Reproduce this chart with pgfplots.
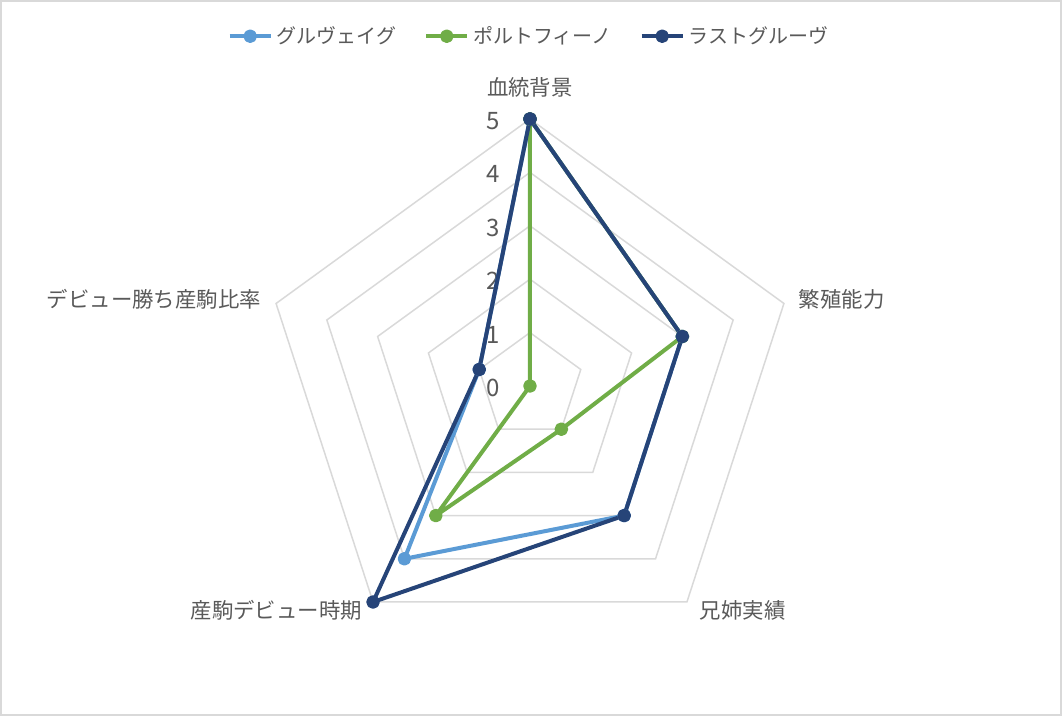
\documentclass[border=0pt]{standalone}
\usepackage{fontspec}
\setmainfont{Noto Sans CJK JP}
\usepackage{pgfplots}
\pgfplotsset{compat=1.18}
\usepgfplotslibrary{polar}
\definecolor{gurv}{HTML}{5B9BD5}
\definecolor{port}{HTML}{70AD47}
\definecolor{rast}{HTML}{264478}
\definecolor{gridc}{HTML}{D9D9D9}
\definecolor{txt}{HTML}{595959}

\begin{document}
\begin{tikzpicture}
\begin{polaraxis}[
    width=267pt, height=267pt, scale only axis,
    ymin=0, ymax=5,
    hide axis, clip=false,
    legend style={at={(0.5,1.155)}, anchor=center, draw=none, fill=none,
        legend columns=3, font=\fontsize{10}{12}\selectfont, text=txt,
        /tikz/every even column/.append style={column sep=12pt}},
    legend image code/.code={\draw[#1, mark repeat=2, mark phase=2]
        plot coordinates {(0pt,0pt)(10.25pt,0pt)(20.5pt,0pt)};},
]
    % pentagon grid
    \addplot[gridc, line width=0.75pt, no marks, forget plot] coordinates {(90,1)(18,1)(306,1)(234,1)(162,1)(90,1)};
    \addplot[gridc, line width=0.75pt, no marks, forget plot] coordinates {(90,2)(18,2)(306,2)(234,2)(162,2)(90,2)};
    \addplot[gridc, line width=0.75pt, no marks, forget plot] coordinates {(90,3)(18,3)(306,3)(234,3)(162,3)(90,3)};
    \addplot[gridc, line width=0.75pt, no marks, forget plot] coordinates {(90,4)(18,4)(306,4)(234,4)(162,4)(90,4)};
    \addplot[gridc, line width=0.75pt, no marks, forget plot] coordinates {(90,5)(18,5)(306,5)(234,5)(162,5)(90,5)};

    \coordinate (c) at (axis cs:0,0);
    % radial tick labels
    \foreach \k in {0,...,5} {
        \edef\temp{\noexpand\node[text=txt, font=\noexpand\fontsize{12}{14}\noexpand\selectfont, xshift=-18.5pt, yshift=-1pt]
            at (axis cs:90,\k) {\k};}
        \temp
    }

    \addplot[gurv, line width=2pt, line join=round, mark=*, mark size=2.4pt]
        coordinates {(90,5)(18,3)(306,3)(234,4)(162,1)(90,5)};
    \addlegendentry{グルヴェイグ}
    \addplot[port, line width=2pt, line join=round, mark=*, mark size=2.4pt]
        coordinates {(90,5)(18,3)(306,1)(234,3)(162,0)(90,5)};
    \addlegendentry{ポルトフィーノ}
    \addplot[rast, line width=2pt, line join=round, mark=*, mark size=2.4pt]
        coordinates {(90,5)(18,3)(306,3)(234,5)(162,1)(90,5)};
    \addlegendentry{ラストグルーヴ}

    % category labels
    \begin{scope}[every node/.style={text=txt, font=\fontsize{10.7}{12}\selectfont}]
        \node at (axis cs:90,5.6) {血統背景};
        \node[anchor=west, xshift=4pt, yshift=2pt] at (axis cs:18,5) {繁殖能力};
        \node[anchor=west, xshift=3pt, yshift=-4pt] at (axis cs:306,5) {兄姉実績};
        \node[anchor=east, xshift=-2pt, yshift=-4pt] at (axis cs:234,5) {産駒デビュー時期};
        \node[anchor=east, xshift=-4pt, yshift=2pt] at (axis cs:162,5) {デビュー勝ち産駒比率};
    \end{scope}
\end{polaraxis}
\pgfresetboundingbox
\draw[gridc, line width=0.75pt] ([shift={(-264.6pt,-164.6pt)}]c) rectangle ([shift={(265.6pt,192.6pt)}]c);
\useasboundingbox ([shift={(-265pt,-165pt)}]c) rectangle ([shift={(266pt,193pt)}]c);
\end{tikzpicture}
\end{document}
